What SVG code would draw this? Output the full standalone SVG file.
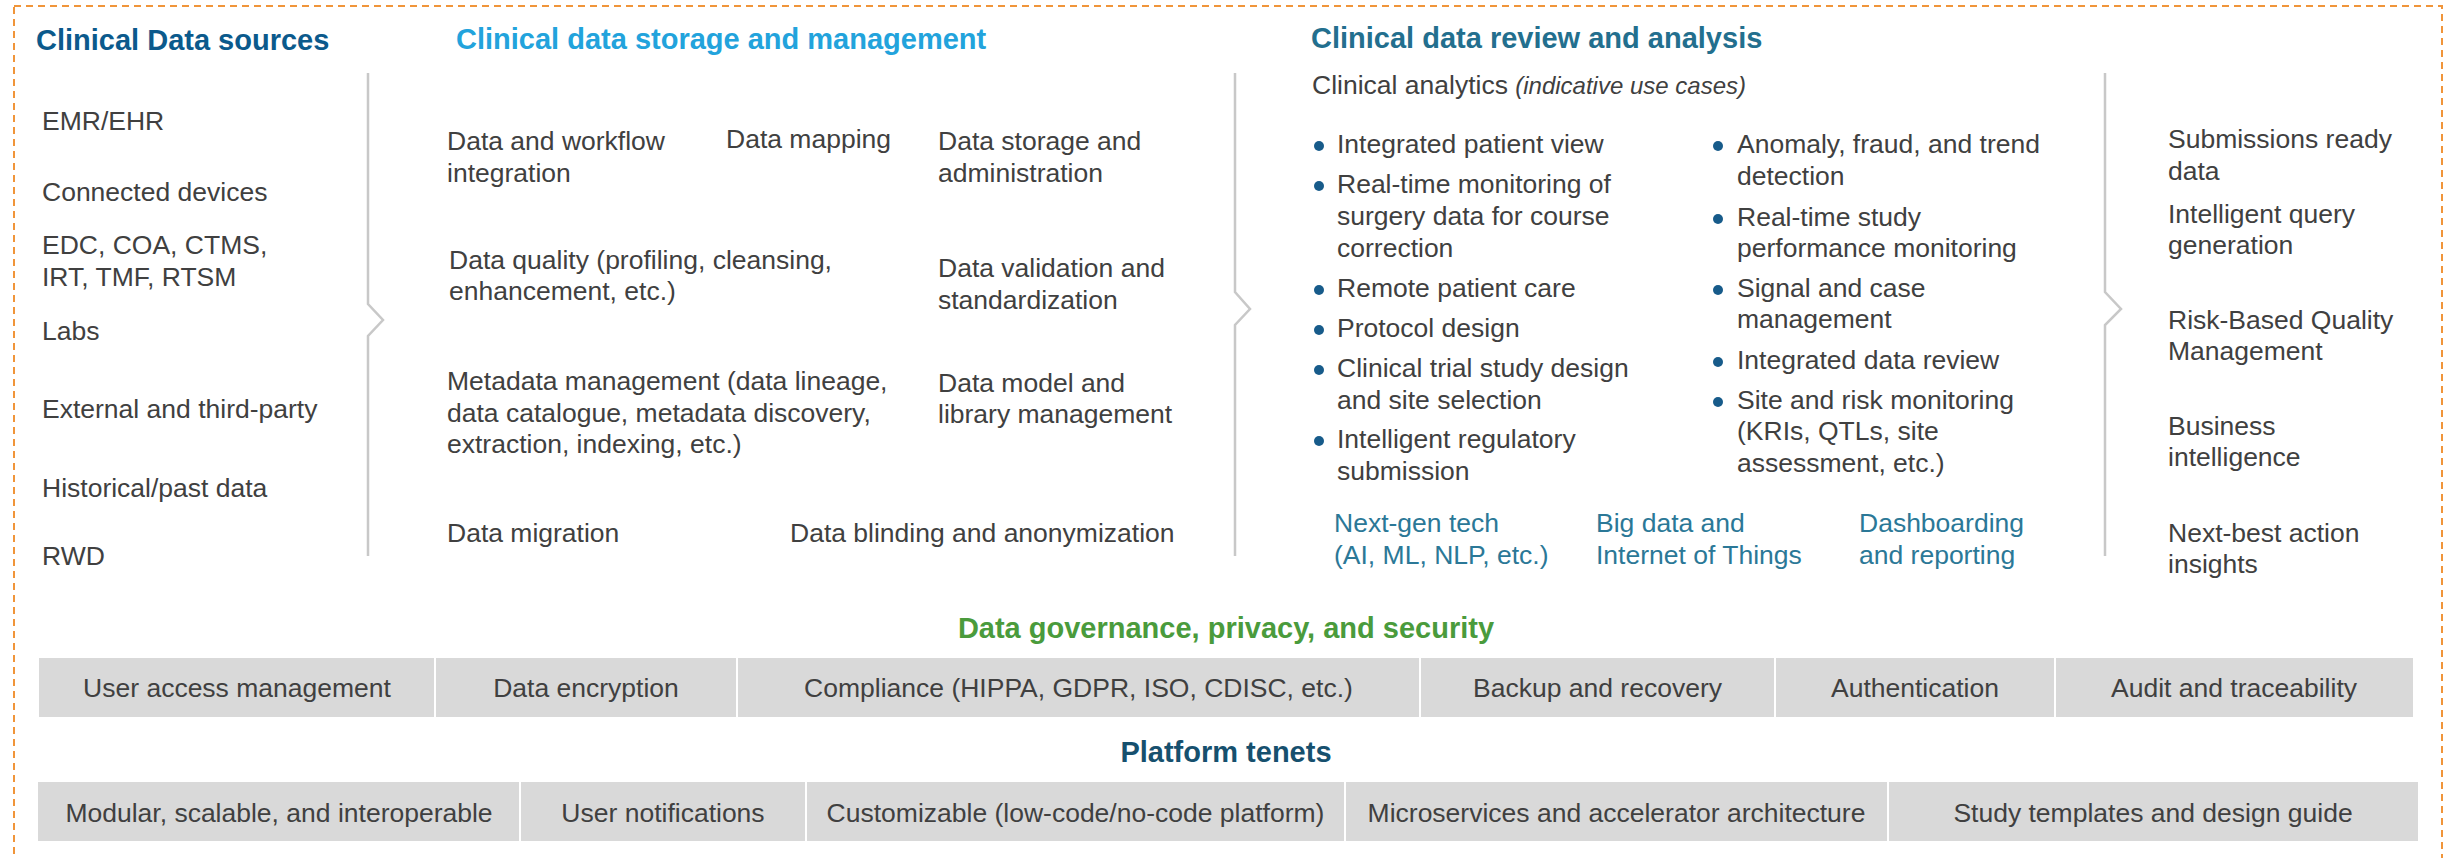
<svg xmlns="http://www.w3.org/2000/svg" width="2450" height="858" viewBox="0 0 2450 858">
<style>
text{font-family:"Liberation Sans",Arial,sans-serif;}
.t{font-size:26.5px;fill:#404040;}
.h{font-size:29px;font-weight:bold;}
.c{text-anchor:middle;}
.teal{font-size:26.5px;fill:#2b7897;}
.br{fill:none;stroke:#c8c8c8;stroke-width:2.5;}
.cell{fill:#d9d9d9;}
.div{stroke:#ffffff;stroke-width:2;}
.dot{fill:#175b8a;}
</style>
<rect x="14" y="6" width="2428" height="900" fill="none" stroke="#f0953a" stroke-width="2" stroke-dasharray="7,5"/>

<g id="connectors">
<path class="br" d="M368,73 V304 L383,320 L368,336 V556"/>
<path class="br" d="M1235,73 V292 L1250,309 L1235,325 V556"/>
<path class="br" d="M2105,73 V292 L2121,309 L2105,325 V556"/>
</g>

<g id="sources">
<text class="h" x="36" y="50" fill="#0b5a8c">Clinical Data sources</text>
<text class="t" x="42" y="130">EMR/EHR</text>
<text class="t" x="42" y="201">Connected devices</text>
<text class="t" x="42" y="254">EDC, COA, CTMS,</text>
<text class="t" x="42" y="286">IRT, TMF, RTSM</text>
<text class="t" x="42" y="340">Labs</text>
<text class="t" x="42" y="418">External and third-party</text>
<text class="t" x="42" y="497">Historical/past data</text>
<text class="t" x="42" y="565">RWD</text>
</g>

<g id="storage">
<text class="h" x="456" y="49" fill="#22a3dc">Clinical data storage and management</text>
<text class="t" x="447" y="150">Data and workflow</text>
<text class="t" x="447" y="182">integration</text>
<text class="t" x="726" y="148">Data mapping</text>
<text class="t" x="938" y="150">Data storage and</text>
<text class="t" x="938" y="182">administration</text>
<text class="t" x="449" y="269">Data quality (profiling, cleansing,</text>
<text class="t" x="449" y="300">enhancement, etc.)</text>
<text class="t" x="938" y="277">Data validation and</text>
<text class="t" x="938" y="309">standardization</text>
<text class="t" x="447" y="390">Metadata management (data lineage,</text>
<text class="t" x="447" y="422">data catalogue, metadata discovery,</text>
<text class="t" x="447" y="453">extraction, indexing, etc.)</text>
<text class="t" x="938" y="392">Data model and</text>
<text class="t" x="938" y="423">library management</text>
<text class="t" x="447" y="542">Data migration</text>
<text class="t" x="790" y="542">Data blinding and anonymization</text>
</g>

<g id="analysis">
<text class="h" x="1311" y="48" fill="#236f8e">Clinical data review and analysis</text>
<text class="t" x="1312" y="94">Clinical analytics <tspan font-style="italic" font-size="24px">(indicative use cases)</tspan></text>
<circle class="dot" cx="1319" cy="146" r="5"/>
<text class="t" x="1337" y="153">Integrated patient view</text>
<circle class="dot" cx="1319" cy="186" r="5"/>
<text class="t" x="1337" y="193">Real-time monitoring of</text>
<text class="t" x="1337" y="225">surgery data for course</text>
<text class="t" x="1337" y="257">correction</text>
<circle class="dot" cx="1319" cy="290" r="5"/>
<text class="t" x="1337" y="297">Remote patient care</text>
<circle class="dot" cx="1319" cy="330" r="5"/>
<text class="t" x="1337" y="337">Protocol design</text>
<circle class="dot" cx="1319" cy="370" r="5"/>
<text class="t" x="1337" y="377">Clinical trial study design</text>
<text class="t" x="1337" y="409">and site selection</text>
<circle class="dot" cx="1319" cy="441" r="5"/>
<text class="t" x="1337" y="448">Intelligent regulatory</text>
<text class="t" x="1337" y="480">submission</text>

<circle class="dot" cx="1718" cy="146" r="5"/>
<text class="t" x="1737" y="153">Anomaly, fraud, and trend</text>
<text class="t" x="1737" y="185">detection</text>
<circle class="dot" cx="1718" cy="219" r="5"/>
<text class="t" x="1737" y="226">Real-time study</text>
<text class="t" x="1737" y="257">performance monitoring</text>
<circle class="dot" cx="1718" cy="290" r="5"/>
<text class="t" x="1737" y="297">Signal and case</text>
<text class="t" x="1737" y="328">management</text>
<circle class="dot" cx="1718" cy="362" r="5"/>
<text class="t" x="1737" y="369">Integrated data review</text>
<circle class="dot" cx="1718" cy="402" r="5"/>
<text class="t" x="1737" y="409">Site and risk monitoring</text>
<text class="t" x="1737" y="440">(KRIs, QTLs, site</text>
<text class="t" x="1737" y="472">assessment, etc.)</text>

<text class="teal" x="1334" y="532">Next-gen tech</text>
<text class="teal" x="1334" y="564">(AI, ML, NLP, etc.)</text>
<text class="teal" x="1596" y="532">Big data and</text>
<text class="teal" x="1596" y="564">Internet of Things</text>
<text class="teal" x="1859" y="532">Dashboarding</text>
<text class="teal" x="1859" y="564">and reporting</text>
</g>

<g id="outputs">
<text class="t" x="2168" y="148">Submissions ready</text>
<text class="t" x="2168" y="180">data</text>
<text class="t" x="2168" y="223">Intelligent query</text>
<text class="t" x="2168" y="254">generation</text>
<text class="t" x="2168" y="329">Risk-Based Quality</text>
<text class="t" x="2168" y="360">Management</text>
<text class="t" x="2168" y="435">Business</text>
<text class="t" x="2168" y="466">intelligence</text>
<text class="t" x="2168" y="542">Next-best action</text>
<text class="t" x="2168" y="573">insights</text>
</g>

<g id="governance">
<text class="h c" x="1226" y="638" fill="#4a9b3c">Data governance, privacy, and security</text>
<rect class="cell" x="39" y="658" width="2374" height="59"/>
<line class="div" x1="435" y1="658" x2="435" y2="717"/>
<line class="div" x1="737" y1="658" x2="737" y2="717"/>
<line class="div" x1="1420" y1="658" x2="1420" y2="717"/>
<line class="div" x1="1775" y1="658" x2="1775" y2="717"/>
<line class="div" x1="2055" y1="658" x2="2055" y2="717"/>
<text class="t c" x="237" y="697">User access management</text>
<text class="t c" x="586" y="697">Data encryption</text>
<text class="t c" x="1078.5" y="697">Compliance (HIPPA, GDPR, ISO, CDISC, etc.)</text>
<text class="t c" x="1597.5" y="697">Backup and recovery</text>
<text class="t c" x="1915" y="697">Authentication</text>
<text class="t c" x="2234" y="697">Audit and traceability</text>
</g>

<g id="tenets">
<text class="h c" x="1226" y="762" fill="#16506e">Platform tenets</text>
<rect class="cell" x="38" y="782" width="2380" height="59"/>
<line class="div" x1="520" y1="782" x2="520" y2="841"/>
<line class="div" x1="806" y1="782" x2="806" y2="841"/>
<line class="div" x1="1345" y1="782" x2="1345" y2="841"/>
<line class="div" x1="1888" y1="782" x2="1888" y2="841"/>
<text class="t c" x="279" y="822">Modular, scalable, and interoperable</text>
<text class="t c" x="663" y="822">User notifications</text>
<text class="t c" x="1075.5" y="822">Customizable (low-code/no-code platform)</text>
<text class="t c" x="1616.5" y="822">Microservices and accelerator architecture</text>
<text class="t c" x="2153" y="822">Study templates and design guide</text>
</g>
</svg>
